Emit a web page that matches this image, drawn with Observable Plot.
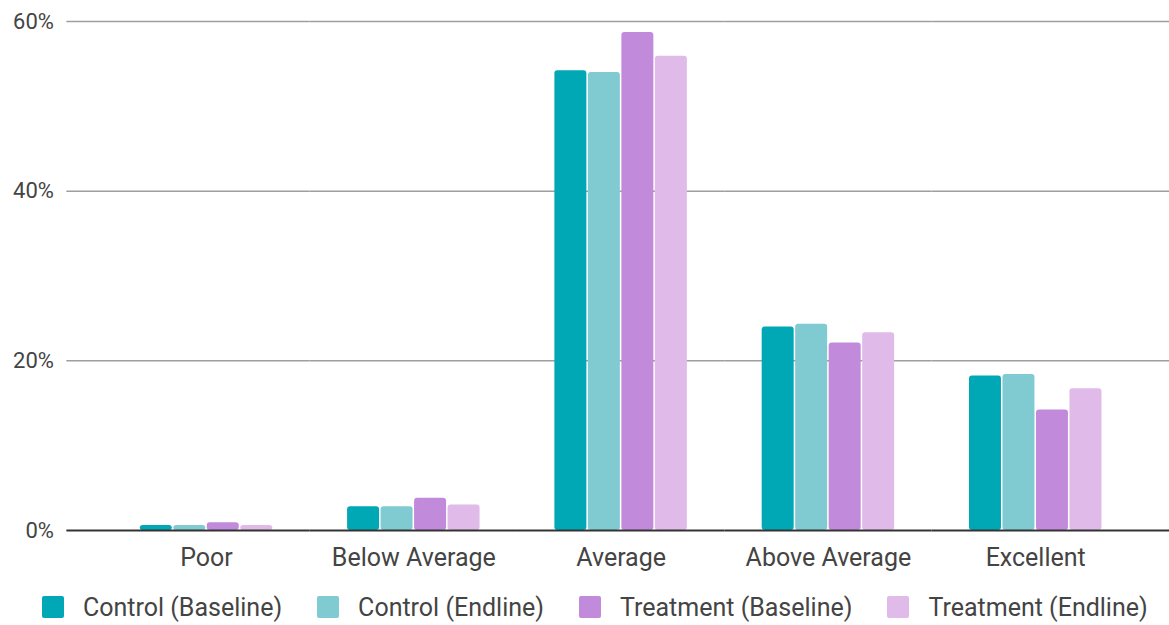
<!DOCTYPE html>
<html>
<head>
<meta charset="utf-8">
<script src="https://cdn.jsdelivr.net/npm/d3@7"></script>
<script src="https://cdn.jsdelivr.net/npm/@observablehq/plot@0.6"></script>
<style>
  html, body { margin: 0; padding: 0; background: #fff; }
  body { width: 1169px; height: 625px; overflow: hidden; font-family: Roboto, sans-serif; }
  #chart svg { display: block; }
  #legend { display: flex; align-items: center; height: 36px; padding-top: 7px; margin-left: 42px; font-size: 25px; color: #444; white-space: nowrap; }
  .item { display: flex; align-items: center; margin-right: 35px; }
  .sw { width: 22px; height: 22px; border-radius: 2px; margin-right: 19px; flex: none; }
</style>
</head>
<body>
<div id="chart"></div>
<div id="legend"></div>
<script>
const categories = ["Poor", "Below Average", "Average", "Above Average", "Excellent"];
const seriesNames = ["Control (Baseline)", "Control (Endline)", "Treatment (Baseline)", "Treatment (Endline)"];
const controlBaseline   = [0.6, 2.8, 54.2, 24.0, 18.2];
const controlEndline    = [0.6, 2.8, 54.0, 24.3, 18.4];
const treatmentBaseline = [0.9, 3.8, 58.7, 22.1, 14.2];
const treatmentEndline  = [0.6, 3.0, 55.9, 23.3, 16.7];
const colors = ["#00a8b5", "#80cad2", "#c28ada", "#e0bae9"];
const yTicks = [0, 20, 40, 60];

const seriesValues = [controlBaseline, controlEndline, treatmentBaseline, treatmentEndline];
const data = [];
categories.forEach((c, i) => {
  seriesNames.forEach((s, j) => data.push({category: c, series: s, value: seriesValues[j][i]}));
});

// grid rows per facet, so the lines are continuous across facets without overlapping
const gridRows = (cats, ticks) => cats.flatMap(c => ticks.map(t => ({category: c, y: t})));
const first = [categories[0]];
const middle = categories.slice(1, -1);
const last = [categories[categories.length - 1]];
const gridTicks = yTicks.slice(1);

const gridOpts = {fx: "category", y: "y", stroke: "#9e9e9e", strokeWidth: 1.5};
const zeroOpts = {fx: "category", y: "y", stroke: "#333", strokeWidth: 2};

const chart = Plot.plot({
  width: 1169,
  height: 582,
  marginLeft: 67,
  marginRight: 0,
  marginTop: 21,
  marginBottom: 52,
  style: {fontFamily: "Roboto, sans-serif", fontSize: "25px", color: "#444", background: "#fff"},
  fx: {domain: categories, label: null, paddingInner: 0, paddingOuter: 0.158, align: 0.54, tickSize: 0, tickPadding: 18, axis: "bottom", round: false},
  x: {domain: seriesNames, axis: null, paddingInner: 0.045, paddingOuter: 1.117, round: false},
  y: {domain: [0, 60], label: null, axis: null},
  color: {domain: seriesNames, range: colors},
  marks: [
    Plot.ruleY(gridRows(first, gridTicks), {...gridOpts, insetLeft: -36}),
    Plot.ruleY(gridRows(middle, gridTicks), gridOpts),
    Plot.ruleY(gridRows(last, gridTicks), {...gridOpts, insetRight: -31}),
    Plot.barY(data, {fx: "category", x: "series", y: "value", fill: "series", rx: 3}),
    Plot.ruleY(gridRows(first, [0]), {...zeroOpts, insetLeft: -36}),
    Plot.ruleY(gridRows(middle, [0]), zeroOpts),
    Plot.ruleY(gridRows(last, [0]), {...zeroOpts, insetRight: -31}),
    Plot.axisY({ticks: yTicks, tickFormat: d => d + "%", tickSize: 0, tickPadding: 49, fontSize: 22, fill: "#444", label: null})
  ]
});
document.getElementById("chart").appendChild(chart);

const legend = document.getElementById("legend");
seriesNames.forEach((s, i) => {
  const item = document.createElement("div");
  item.className = "item";
  const sw = document.createElement("div");
  sw.className = "sw";
  sw.style.background = colors[i];
  const label = document.createElement("span");
  label.textContent = s;
  item.appendChild(sw);
  item.appendChild(label);
  legend.appendChild(item);
});
</script>
</body>
</html>
